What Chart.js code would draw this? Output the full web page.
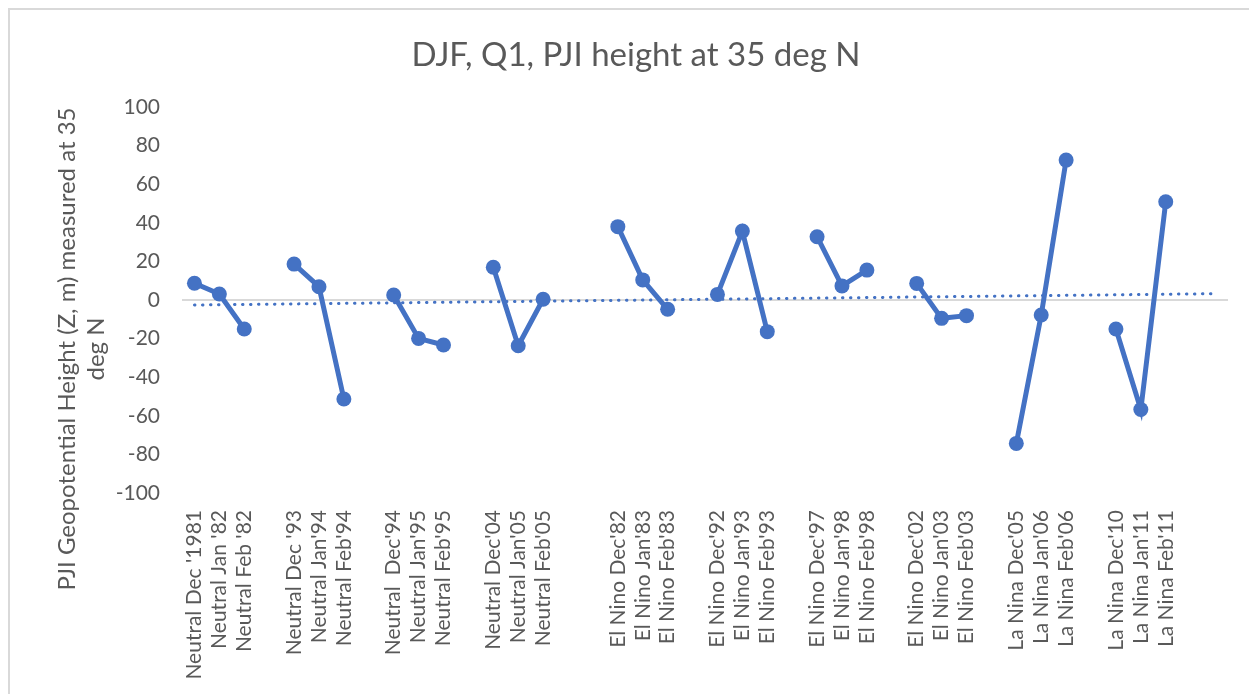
<!DOCTYPE html>
<html>
<head>
<meta charset="utf-8">
<script src="https://cdn.jsdelivr.net/npm/chart.js@4/dist/chart.umd.min.js"></script>
<style>
  html, body { margin: 0; padding: 0; background: #ffffff; }
  #wrap { width: 1249px; height: 694px; position: relative; }
</style>
</head>
<body>
<div id="wrap"><canvas id="c" width="1249" height="694"></canvas></div>
<script>
// Season categories (empty strings are spacer slots between groups)
const categories = [
  "Neutral Dec '1981", "Neutral Jan '82", "Neutral Feb '82", "",
  "Neutral Dec '93", "Neutral Jan'94", "Neutral Feb'94", "",
  "Neutral  Dec'94", "Neutral Jan'95", "Neutral Feb'95", "",
  "Neutral Dec'04", "Neutral Jan'05", "Neutral Feb'05", "", "",
  "El Nino Dec'82", "El Nino Jan'83", "El Nino Feb'83", "",
  "El Nino Dec'92", "El Nino Jan'93", "El Nino Feb'93", "",
  "El Nino Dec'97", "El Nino Jan'98", "El Nino Feb'98", "",
  "El Nino Dec'02", "El Nino Jan'03", "El Nino Feb'03", "",
  "La Nina Dec'05", "La Nina Jan'06", "La Nina Feb'06", "",
  "La Nina Dec'10", "La Nina Jan'11", "La Nina Feb'11", "", ""
];

// PJI geopotential height (m) at 35 deg N; null = spacer slot
const pjiHeight = [
  8.7, 3.1, -15.0, null,
  18.6, 6.9, -51.3, null,
  2.6, -19.9, -23.3, null,
  17.0, -23.7, 0.4, null, null,
  38.0, 10.4, -4.8, null,
  2.9, 35.7, -16.4, null,
  32.8, 7.3, 15.5, null,
  8.6, -9.5, -8.1, null,
  -74.3, -7.8, 72.5, null,
  -15.0, -56.7, 50.9, null, null
];

const yTicks = { min: -100, max: 100, step: 20 };

const chartTitle = "DJF, Q1, PJI height at 35 deg N";
const yTitleLines = ["PJI Geopotential Height (Z, m) measured at 35", "deg N"];

// Least-squares linear trend over the category index
function linearTrend(vals) {
  const pts = [];
  vals.forEach((v, i) => { if (v !== null) pts.push([i, v]); });
  const n = pts.length;
  const mx = pts.reduce((s, p) => s + p[0], 0) / n;
  const my = pts.reduce((s, p) => s + p[1], 0) / n;
  let sxy = 0, sxx = 0;
  pts.forEach(p => { sxy += (p[0] - mx) * (p[1] - my); sxx += (p[0] - mx) ** 2; });
  const b = sxy / sxx, a = my - b * mx;
  return vals.map((_, i) => a + b * i);
}
const trendValues = linearTrend(pjiHeight);

const BLUE = '#4472C4';
const TEXT = '#595959';
const FONT = 'Lato';

const framePlugin = {
  id: 'frame',
  beforeDraw(chart) {
    const ctx = chart.ctx;
    ctx.save();
    ctx.fillStyle = '#ffffff';
    ctx.fillRect(0, 0, chart.width, chart.height);
    ctx.strokeStyle = '#d9d9d9';
    ctx.lineWidth = 2;
    ctx.strokeRect(9, 9, 3000, 3000);
    ctx.restore();
  },
  afterDraw(chart) {
    const ctx = chart.ctx;
    ctx.save();
    ctx.fillStyle = TEXT;
    ctx.textAlign = 'center';
    ctx.textBaseline = 'middle';
    ctx.font = '33px ' + FONT;
    ctx.fillText(chartTitle, 636, 55);
    ctx.font = '24px ' + FONT;
    ctx.translate(0, 349);
    ctx.rotate(-Math.PI / 2);
    ctx.fillText(yTitleLines[0], 0, 67);
    ctx.fillText(yTitleLines[1], 0, 96);
    ctx.restore();
  }
};

new Chart(document.getElementById('c'), {
  type: 'line',
  data: {
    labels: categories,
    datasets: [
      {
        label: 'PJI height',
        data: pjiHeight,
        borderColor: BLUE,
        backgroundColor: BLUE,
        borderWidth: 5,
        pointRadius: 7.5,
        pointBorderWidth: 0,
        pointBackgroundColor: BLUE,
        spanGaps: false,
        tension: 0,
        order: 1
      },
      {
        label: 'Linear trend',
        data: trendValues,
        borderColor: BLUE,
        borderWidth: 3,
        borderDash: [0.5, 7.5],
        borderCapStyle: 'round',
        pointRadius: 0,
        tension: 0,
        order: 2
      }
    ]
  },
  options: {
    responsive: false,
    animation: false,
    devicePixelRatio: 1,
    layout: { padding: { top: 107, left: 0, right: 21, bottom: 0 } },
    plugins: {
      legend: { display: false },
      title: { display: false },
      tooltip: { enabled: false }
    },
    scales: {
      x: {
        type: 'category',
        offset: true,
        grid: { display: false, drawTicks: false, offset: true },
        border: { display: false },
        ticks: {
          autoSkip: false,
          maxRotation: 90,
          minRotation: 90,
          padding: 17,
          color: TEXT,
          font: { family: FONT, size: 21 }
        },
        afterFit(scale) {
          scale.height = 201;
          scale.paddingLeft = 0;
          scale.paddingRight = 0;
        }
      },
      y: {
        min: yTicks.min,
        max: yTicks.max,
        grid: {
          drawTicks: false,
          lineWidth: 2,
          color: ctx => (ctx.tick && ctx.tick.value === 0) ? '#d9d9d9' : 'rgba(0,0,0,0)'
        },
        border: { display: false },
        ticks: {
          stepSize: yTicks.step,
          padding: 22,
          color: TEXT,
          font: { family: FONT, size: 21 }
        },
        afterFit(scale) { scale.width = 182; }
      }
    }
  },
  plugins: [framePlugin]
});
</script>
</body>
</html>
